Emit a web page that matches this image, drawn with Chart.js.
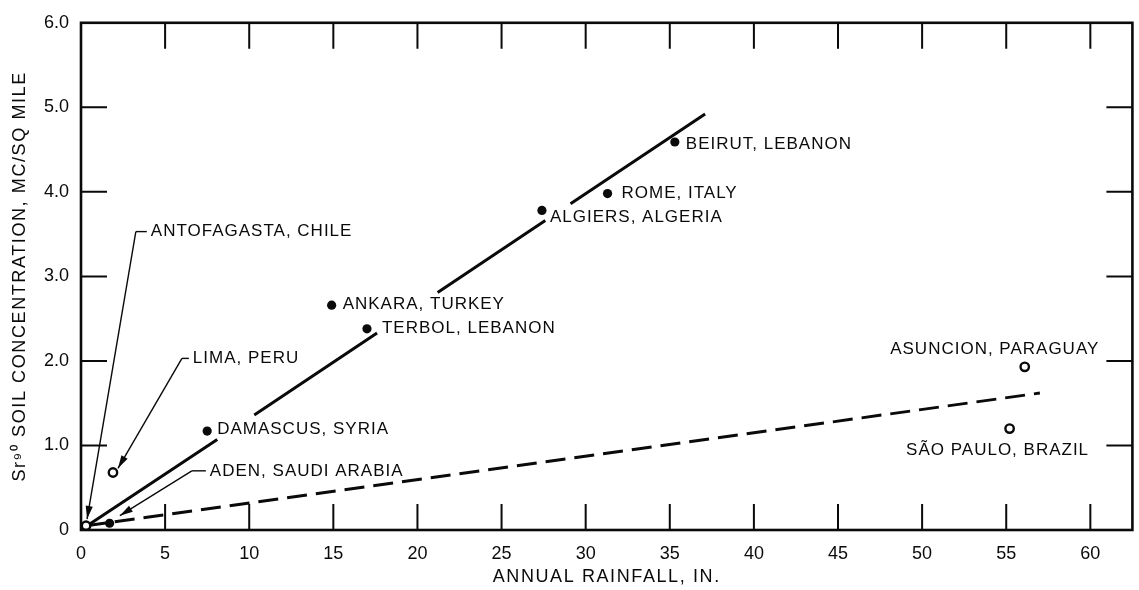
<!DOCTYPE html>
<html><head><meta charset="utf-8">
<script src="https://cdn.jsdelivr.net/npm/chart.js@4"></script>
<style>html,body{margin:0;padding:0;background:#fff}canvas{display:block}</style>
</head><body>
<canvas id="c" width="1139" height="590" style="width:1139px;height:590px"></canvas>
<script>
// ---- data ----
const filledNames = ['ADEN, SAUDI ARABIA','DAMASCUS, SYRIA','ANKARA, TURKEY','TERBOL, LEBANON','ALGIERS, ALGERIA','ROME, ITALY','BEIRUT, LEBANON'];
const filledRain  = [1.7, 7.5, 14.9, 17.0, 27.4, 31.3, 35.3];
const filledSr    = [0.08, 1.17, 2.66, 2.38, 3.78, 3.98, 4.59];

const openNames = ['ANTOFAGASTA, CHILE','LIMA, PERU','ASUNCION, PARAGUAY','SÃO PAULO, BRAZIL'];
const openRain  = [0.3, 1.9, 56.1, 55.2];
const openSr    = [0.05, 0.68, 1.93, 1.2];

// solid fit line (broken where labels cross it)
const fitRain = [0.3, 8.1, 9.2, 10.3, 17.6, 19.4, 21.2, 27.6, 28.3, 29.1, 37.1];
const fitSr   = [0.04, 1.07, null, 1.36, 2.33, null, 2.81, 3.66, null, 3.86, 4.92];

// dashed fit line
const dashRain = [0.3, 57.0];
const dashSr   = [0.05, 1.62];

const xTitle = 'ANNUAL RAINFALL, IN.';
const yTitle = 'Sr⁹⁰ SOIL CONCENTRATION, MC/SQ MILE';
const xMin = 0, xMax = 62.5, xStep = 5;
const yMin = 0, yMax = 6, yStep = 1;

// ---- styling / annotation layout ----
const FONT = '"Liberation Sans", Arial, Helvetica, sans-serif';
const INK = '#0a0a0a';
const labelPlacement = {
  'DAMASCUS, SYRIA':   {dx: 10, dy: -2, align: 'left'},
  'ANKARA, TURKEY':    {dx: 11, dy: -1, align: 'left'},
  'TERBOL, LEBANON':   {dx: 15, dy: 0,  align: 'left'},
  'ALGIERS, ALGERIA':  {dx: 8,  dy: 7,  align: 'left'},
  'ROME, ITALY':       {dx: 14, dy: 0,  align: 'left'},
  'BEIRUT, LEBANON':   {dx: 11, dy: 2,  align: 'left'},
  'ASUNCION, PARAGUAY':{dx: -30, dy: -18, align: 'center'},
  'SÃO PAULO, BRAZIL': {dx: -12, dy: 22, align: 'center'}
};
const leaderLabels = [
  {name: 'ANTOFAGASTA, CHILE', elbowX: 3.26, elbowY: 3.53, textX: 4.15, tipX: 0.36, tipY: 0.13},
  {name: 'LIMA, PERU',         elbowX: 6.0,  elbowY: 2.03, textX: 6.65, tipX: 2.2,  tipY: 0.73},
  {name: 'ADEN, SAUDI ARABIA', elbowX: 6.59, elbowY: 0.70, textX: 7.66, tipX: 2.31, tipY: 0.17}
];

const toPts = (xs, ys) => xs.map((x, i) => ({x: x, y: ys[i]}));

function arrow(ctx, x1, y1, x2, y2) {
  ctx.beginPath(); ctx.moveTo(x1, y1); ctx.lineTo(x2, y2); ctx.stroke();
  const a = Math.atan2(y2 - y1, x2 - x1), L = 13, W = 3.6;
  ctx.beginPath();
  ctx.moveTo(x2, y2);
  ctx.lineTo(x2 - L * Math.cos(a) + W * Math.sin(a), y2 - L * Math.sin(a) - W * Math.cos(a));
  ctx.lineTo(x2 - L * Math.cos(a) - W * Math.sin(a), y2 - L * Math.sin(a) + W * Math.cos(a));
  ctx.closePath(); ctx.fill();
}

const decor = {
  id: 'decor',
  beforeDraw(chart) { chart.ctx.letterSpacing = '1.6px'; },
  afterDatasetsDraw(chart) {
    const ctx = chart.ctx, xs = chart.scales.x, ys = chart.scales.y;
    ctx.save();
    ctx.font = '17px ' + FONT;
    ctx.letterSpacing = '1px';
    ctx.fillStyle = INK; ctx.strokeStyle = INK;
    ctx.textBaseline = 'middle';
    const all = [];
    filledNames.forEach((n, i) => all.push([n, filledRain[i], filledSr[i]]));
    openNames.forEach((n, i) => all.push([n, openRain[i], openSr[i]]));
    all.forEach(([n, x, y]) => {
      const p = labelPlacement[n];
      if (!p) return;
      ctx.textAlign = p.align;
      ctx.fillText(n, xs.getPixelForValue(x) + p.dx, ys.getPixelForValue(y) + p.dy);
    });
    ctx.lineWidth = 1.4;
    leaderLabels.forEach(l => {
      const ex = xs.getPixelForValue(l.elbowX), ey = ys.getPixelForValue(l.elbowY);
      const tx = xs.getPixelForValue(l.textX);
      ctx.beginPath(); ctx.moveTo(ex, ey); ctx.lineTo(tx - 4, ey); ctx.stroke();
      arrow(ctx, ex, ey, xs.getPixelForValue(l.tipX), ys.getPixelForValue(l.tipY));
      ctx.textAlign = 'left';
      ctx.fillText(l.name, tx, ey);
    });
    ctx.restore();
    ctx.letterSpacing = '0px';
  },
  afterDraw(chart) {
    const ctx = chart.ctx, a = chart.chartArea, xs = chart.scales.x, ys = chart.scales.y;
    ctx.save();
    ctx.strokeStyle = INK;
    ctx.lineWidth = 2;
    const T = 26;
    ctx.beginPath();
    xs.ticks.forEach(t => {
      if (t.value <= xs.min || t.value >= xs.max) return;
      const px = xs.getPixelForValue(t.value);
      ctx.moveTo(px, a.bottom); ctx.lineTo(px, a.bottom - T);
      ctx.moveTo(px, a.top); ctx.lineTo(px, a.top + T);
    });
    ys.ticks.forEach(t => {
      if (t.value <= ys.min || t.value >= ys.max) return;
      const py = ys.getPixelForValue(t.value);
      ctx.moveTo(a.left, py); ctx.lineTo(a.left + T, py);
      ctx.moveTo(a.right, py); ctx.lineTo(a.right - T, py);
    });
    ctx.stroke();
    ctx.lineWidth = 2.6;
    ctx.strokeRect(a.left, a.top, a.right - a.left, a.bottom - a.top);
    ctx.restore();
  }
};

new Chart(document.getElementById('c'), {
  type: 'scatter',
  data: {
    datasets: [
      {label: 'Filled', data: toPts(filledRain, filledSr), pointRadius: 4.6, pointBackgroundColor: INK, pointBorderColor: INK, pointBorderWidth: 0},
      {label: 'Open', data: toPts(openRain, openSr), pointRadius: 4.2, pointBackgroundColor: '#fff', pointBorderColor: INK, pointBorderWidth: 2.4},
      {label: 'Fit', data: toPts(fitRain, fitSr), showLine: true, spanGaps: false, pointRadius: 0, borderColor: INK, borderWidth: 3},
      {label: 'Dashed fit', data: toPts(dashRain, dashSr), showLine: true, pointRadius: 0, borderColor: INK, borderWidth: 3, borderDash: [20, 9]}
    ]
  },
  options: {
    responsive: false,
    animation: false,
    devicePixelRatio: 1,
    layout: {padding: {top: 14, right: 5, left: 0, bottom: 0}},
    plugins: {legend: {display: false}, tooltip: {enabled: false}},
    scales: {
      x: {
        type: 'linear', min: xMin, max: xMax,
        afterFit: s => { s.height = 60; },
        grid: {display: false, drawTicks: false},
        border: {display: false},
        ticks: {stepSize: xStep, includeBounds: false, padding: 13, color: INK, font: {family: FONT, size: 18}, maxRotation: 0, autoSkip: false, z: 1},
        title: {display: true, text: xTitle, color: INK, font: {family: FONT, size: 18}, padding: {top: 0, bottom: 2}}
      },
      y: {
        type: 'linear', min: yMin, max: yMax,
        afterFit: s => { s.width = 81; },
        grid: {display: false, drawTicks: false},
        border: {display: false},
        ticks: {stepSize: yStep, padding: 12, color: INK, font: {family: FONT, size: 18}, z: 1,
          callback: v => v === 0 ? '0' : Number(v).toFixed(1)},
        title: {display: true, text: yTitle, color: INK, font: {family: FONT, size: 18}, padding: {top: 9, bottom: 0}}
      }
    }
  },
  plugins: [decor]
});
</script>
</body></html>
